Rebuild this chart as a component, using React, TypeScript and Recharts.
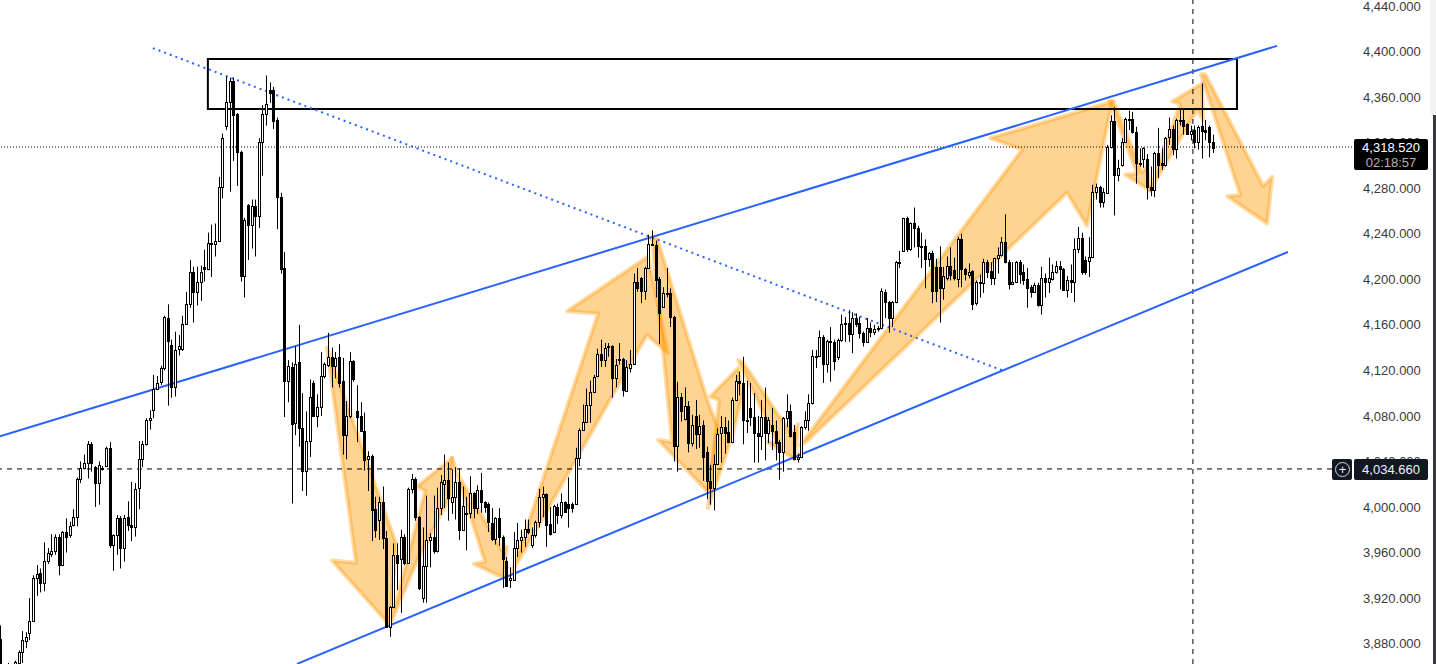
import { ComposedChart, Bar, Scatter, XAxis, YAxis, ReferenceLine, ReferenceArea } from 'recharts';

// rows are [open, high, low, close]
const climbCandles = [
  [3884,3896,3848,3857],[3858,3860,3850,3852],[3859,3863,3850,3854],[3852,3860,3850,3858],[3862,3865,3860,3864],[3863,3874,3862,3873],[3873,3891,3863,3883],[3882,3890,3876,3886],[3889,3920,3883,3900],[3900,3940,3899,3938],
  [3938,3949,3922,3941],[3942,3946,3925,3933],[3933,3969,3926,3953],[3953,3964,3950,3960],[3959,3976,3956,3961],[3961,3976,3958,3974],[3974,3976,3940,3949],[3949,3979,3948,3978],[3978,3990,3960,3974],[3975,3987,3973,3983],
  [3984,3998,3983,3991],[3991,4026,3983,4025],[4025,4040,4021,4034],[4034,4046,4033,4039],[4039,4058,4025,4055],[4055,4057,4031,4039],[4035,4036,4000,4021],[4021,4040,4002,4037],[4033,4036,4032,4034],[4036,4053,4035,4052],
  [4052,4057,3964,3967],[3967,3976,3944,3975],[3975,3993,3958,3990],[3990,3992,3946,3964],[3964,3993,3952,3990],[3991,4005,3979,3984],[3984,4022,3970,3982],[3982,4021,3974,4016],[4017,4058,3998,4042],[4042,4058,4035,4055],
  [4055,4078,4054,4076],[4076,4085,4068,4078],[4085,4116,4078,4104],[4104,4115,4103,4109],[4110,4124,4107,4122],[4122,4168,4120,4167],[4166,4178,4089,4146],[4142,4147,4096,4105],[4105,4154,4097,4138],[4139,4151,4133,4141],
  [4139,4168,4137,4161],[4161,4189,4160,4178],[4178,4217,4175,4206],[4206,4211,4162,4189],[4189,4211,4177,4198],[4198,4212,4181,4206],[4211,4226,4198,4209],[4209,4241,4208,4232],[4232,4248,4202,4232],[4231,4249,4220,4234],
  [4234,4290,4233,4281],[4281,4328,4271,4324],[4335,4378,4331,4356],[4356,4377,4277,4374],
];
const firstTopCandles = [
  [4374,4377,4304,4344],[4345,4346,4282,4312],[4312,4313,4198,4203],[4203,4254,4184,4252],[4265,4266,4217,4248],[4248,4270,4227,4264],[4264,4270,4220,4256],[4256,4324,4245,4321],[4321,4353,4291,4345],[4345,4379,4335,4354],
  [4366,4373,4355,4364],[4366,4369,4332,4339],[4340,4342,4244,4272],[4272,4276,4205,4209],[4210,4224,4079,4111],[4111,4129,4092,4124],[4123,4127,4003,4073],[4074,4141,4063,4126],[4127,4160,4053,4069],[4069,4100,4014,4032],
  [4032,4084,4010,4058],[4058,4112,4044,4097],[4109,4111,4079,4080],[4080,4099,4070,4088],[4088,4136,4080,4115],[4115,4127,4113,4126],[4125,4153,4123,4132],[4132,4140,4105,4124],[4124,4136,4113,4131],[4132,4143,4105,4109],
  [4111,4131,4046,4063],[4063,4093,4042,4080],[4080,4136,4078,4128],[4128,4129,4110,4112],[4084,4107,4057,4079],[4080,4092,4066,4067],[4067,4083,4032,4041],[4042,4049,4014,4045],[4045,4046,3970,3997],[3998,4009,3973,3980],
  [3989,4009,3971,4004],[4004,4018,3963,3973],[3973,3979,3894,3895],
];
const firstLowCandles = [
  [3895,3913,3886,3912],[3912,3968,3911,3958],[3958,3968,3927,3951],[3954,3980,3907,3974],[3974,3976,3949,3951],[3951,4017,3950,4016],[4016,4029,4012,4025],[4025,4026,3988,3991],[3991,3992,3927,3929],[3920,3982,3916,3948],
  [3948,4010,3916,3971],[3971,3977,3947,3974],[3974,4010,3959,3961],[3961,4017,3960,3999],[3999,4028,3993,4022],[4020,4046,3999,4024],[4024,4039,3988,4008],[4004,4033,3994,4009],[4009,4035,3989,4022],[4022,4034,3971,3980],
  [3980,4018,3979,4001],[3995,4009,3962,3995],[3995,4027,3990,4012],[4012,4013,3990,3999],[3999,4019,3994,4015],[4015,4030,3995,4004],[4004,4005,3995,4000],[4003,4004,3978,3987],[3986,3999,3970,3972],[3972,3991,3967,3990],
  [3990,3999,3966,3974],[3974,3975,3929,3954],[3953,3956,3930,3931],
];
const secondRallyCandles = [
  [3936,3947,3929,3938],[3936,3978,3935,3964],[3964,3986,3956,3971],[3971,3980,3960,3974],[3974,3989,3965,3981],[3981,3989,3976,3978],[3967,3982,3964,3975],[3975,3988,3973,3987],[3987,4016,3982,4009],[4009,4018,3991,4011],
  [4011,4012,3965,3984],[3985,4000,3975,3976],[3978,4002,3977,4001],[4000,4003,3985,3993],[3993,4012,3990,4004],[4004,4005,3995,3996],[4003,4026,3982,3999],[4003,4004,3995,3999],[4003,4052,4002,4043],[4043,4069,4036,4068],
  [4068,4090,4067,4075],[4075,4104,4074,4090],[4090,4111,4074,4101],[4101,4116,4100,4114],[4115,4139,4114,4134],[4134,4147,4123,4129],[4129,4144,4123,4140],[4141,4144,4132,4141],[4141,4142,4096,4113],[4113,4130,4105,4125],
  [4130,4144,4125,4130],[4130,4131,4097,4103],[4102,4129,4102,4123],[4122,4138,4118,4126],[4126,4205,4125,4198],[4198,4210,4189,4192],[4201,4202,4179,4190],[4190,4211,4182,4210],[4210,4239,4209,4231],[4231,4243,4230,4231],
];
const midDropCandles = [
  [4230,4234,4184,4199],[4200,4202,4143,4170],[4176,4193,4175,4188],[4188,4210,4184,4188],[4188,4192,4158,4167],[4167,4168,4040,4054],[4054,4110,4031,4097],[4097,4100,4075,4084],[4077,4105,4076,4089],[4089,4093,4048,4056],
  [4056,4081,4053,4072],[4080,4094,4051,4064],[4064,4081,4052,4071],[4072,4076,4023,4044],[4048,4053,4007,4023],[4023,4037,4002,4017],[4017,4046,3997,4038],[4038,4069,4037,4064],[4065,4080,4039,4070],[4070,4079,4047,4065],
  [4066,4076,4056,4057],[4057,4096,4056,4094],[4094,4116,4093,4111],[4111,4119,4098,4109],[4109,4132,4055,4076],[4076,4111,4065,4076],[4087,4109,4071,4079],[4079,4100,4039,4065],[4065,4080,4039,4062],[4062,4094,4050,4079],
  [4079,4105,4041,4065],[4065,4079,4056,4076],[4072,4087,4050,4067],[4067,4076,4041,4056],[4057,4059,4024,4048],[4048,4079,4031,4078],[4078,4099,4070,4084],[4084,4090,4061,4062],[4066,4072,4041,4042],[4042,4047,4039,4044],
];
const pushUpCandles = [
  [4044,4071,4043,4070],[4070,4084,4068,4076],[4076,4099,4067,4091],[4091,4138,4090,4133],[4133,4138,4122,4133],[4133,4155,4132,4149],[4149,4151,4109,4126],[4126,4147,4118,4146],[4146,4158,4110,4145],[4145,4147,4120,4128],
  [4132,4148,4129,4147],[4147,4169,4145,4161],[4161,4167,4145,4162],[4162,4173,4145,4152],[4152,4171,4135,4166],[4166,4170,4158,4161],[4162,4167,4148,4153],[4153,4154,4141,4145],[4145,4166,4144,4157],[4157,4162,4149,4154],
  [4154,4160,4151,4156],[4157,4159,4154,4157],[4157,4192,4156,4190],[4189,4191,4166,4180],[4180,4181,4153,4166],[4166,4181,4158,4180],[4180,4216,4179,4215],[4215,4225,4210,4215],[4225,4254,4224,4254],[4254,4255,4224,4227],
];
const rangeCandles = [
  [4227,4250,4225,4249],[4249,4263,4228,4245],[4245,4247,4219,4229],[4229,4241,4210,4229],[4229,4235,4192,4218],[4218,4224,4211,4223],[4223,4225,4179,4190],[4211,4218,4180,4190],[4211,4229,4162,4192],[4192,4211,4182,4203],
  [4201,4220,4199,4212],[4212,4228,4199,4204],[4208,4219,4199,4201],[4200,4237,4193,4235],[4235,4240,4193,4209],[4209,4210,4199,4205],[4204,4214,4201,4206],[4207,4208,4173,4178],[4179,4199,4177,4198],[4198,4204,4184,4197],
  [4197,4218,4188,4215],[4215,4217,4201,4206],[4207,4215,4195,4201],[4201,4219,4195,4219],[4219,4228,4205,4221],[4221,4237,4220,4233],[4233,4257,4214,4215],[4215,4217,4191,4196],[4196,4215,4195,4198],[4198,4216,4197,4215],
  [4215,4217,4196,4205],[4206,4213,4195,4199],[4200,4210,4175,4192],[4193,4195,4184,4189],[4189,4197,4188,4195],[4195,4197,4176,4177],[4177,4211,4169,4201],[4201,4205,4184,4198],[4198,4219,4188,4201],[4200,4213,4199,4206],
  [4206,4216,4205,4212],[4212,4216,4191,4209],[4209,4210,4190,4191],[4191,4203,4184,4199],[4199,4213,4188,4198],
];
const lastLegCandles = [
  [4198,4236,4180,4227],[4227,4246,4223,4236],[4236,4241,4204,4206],[4217,4220,4204,4206],[4216,4237,4202,4220],[4220,4283,4219,4277],[4277,4284,4270,4281],[4281,4282,4263,4268],[4268,4280,4263,4277],[4276,4318,4275,4316],
  [4316,4344,4315,4339],[4339,4351,4256,4292],[4292,4305,4286,4298],[4300,4324,4299,4321],[4321,4342,4320,4341],[4341,4348,4331,4341],[4341,4347,4328,4329],[4329,4334,4284,4302],[4302,4315,4299,4302],[4306,4316,4298,4315],
  [4306,4310,4270,4281],[4281,4299,4273,4278],[4278,4312,4272,4311],[4311,4333,4289,4300],[4302,4315,4296,4300],[4300,4325,4299,4324],[4325,4342,4318,4332],[4332,4335,4309,4314],[4314,4341,4306,4340],[4340,4350,4335,4340],
  [4340,4349,4327,4335],[4336,4337,4327,4328],[4328,4335,4322,4330],[4331,4335,4315,4321],[4321,4335,4314,4334],[4335,4372,4306,4330],[4331,4340,4322,4329],[4334,4335,4307,4321],[4321,4327,4311,4315],
];

const priceTicks = [3880, 3920, 3960, 4000, 4040, 4080, 4120, 4160, 4200, 4240, 4280, 4320, 4360, 4400, 4440];

// drawn arrows, [bar index, price]
const arrowShapes = [
  [[89.7,4140],[97.7,3951],[91.1,3953],[107,3896],[108.7,3968]],
  [[107,3896],[116.7,4014],[114.5,4018],[124.1,4043],[123.8,4011],[114.5,3953]],
  [[124.1,4043],[133.1,3952],[130.1,3950],[138.1,3938],[139.2,3965],[137.8,3962],[124.9,4033]],
  [[140.6,3943],[164.2,4170],[155.7,4172],[177.9,4220],[183.4,4135],[177.6,4151]],
  [[179,4236],[184.5,4057],[180.7,4059],[194.4,4013],[197.2,4069],[194.4,4092],[180.4,4236]],
  [[194.4,3999],[197.4,4094],[195,4097],[202.7,4122],[203.7,4097],[201.3,4065]],
  [[202.7,4129],[213.6,4056],[210.6,4057],[218.3,4042],[219.1,4073],[217.5,4063],[204,4127]],
  [[219.7,4054],[280.7,4314],[271.9,4324],[305.4,4356],[298.5,4247],[293,4276],[221.3,4057]],
  [[304.6,4357],[312.3,4293],[309,4292],[315.8,4278],[315,4299],[313.6,4294],[305.9,4356]],
  [[315.8,4278],[324.1,4354],[321.9,4356],[330.1,4372],[330.4,4340],[328.8,4349],[317.8,4289]],
  [[329.8,4380],[340.6,4274],[337,4273],[348,4249],[349.4,4290],[346.9,4282],[331,4380]],
];

const upperChannel = [{ x: -0.1, y: 4062 }, { x: 350.7, y: 4405 }];
const lowerChannel = [{ x: 81.5, y: 3862.2 }, { x: 353.7, y: 4224 }];
const dottedTrend = [{ x: 41.9, y: 4403 }, { x: 275.2, y: 4120 }];
const zoneBox = { x1: 57, x2: 339.7, y1: 4349.6, y2: 4393.5 };
const crossBar = 327.6;
const crossPrice = 4033.4;
const lastPrice = 4316.2;

const candles = [
  ...climbCandles, ...firstTopCandles, ...firstLowCandles, ...secondRallyCandles,
  ...midDropCandles, ...pushUpCandles, ...rangeCandles, ...lastLegCandles,
].map((r, i) => ({ x: i, y: r[3], o: r[0], h: r[1], l: r[2], c: r[3] }));

function Candle(props: any) {
  const { x, y, width, height, payload } = props;
  const cx = Math.round(x + width / 2) + 0.5;
  const perUnit = height / (payload.h - payload.l);
  const top = y + (payload.h - Math.max(payload.o, payload.c)) * perUnit;
  const bottom = y + (payload.h - Math.min(payload.o, payload.c)) * perUnit;
  const up = payload.c >= payload.o;
  const t = Math.round(top) + 0.5;
  const b = Math.max(Math.round(bottom) + 0.5, t + 1);
  return (
    <g>
      <line x1={cx} x2={cx} y1={y} y2={y + height} stroke="#000" strokeWidth={1} />
      <rect x={cx - 1} y={t} width={2} height={b - t} fill={up ? '#fff' : '#000'} stroke="#000" strokeWidth={1} />
    </g>
  );
}

function ArrowFill(props: any) {
  const pts = props.points.map((p: any) => `${p.x},${p.y}`).join(' ');
  return (
    <polygon
      points={pts}
      fill="#ff9800"
      fillOpacity={0.43}
      stroke="#ff9800"
      strokeOpacity={0.35}
      strokeWidth={4}
      strokeLinejoin="round"
    />
  );
}

const badge = { position: 'absolute', left: 1354, width: 74, borderRadius: 2, textAlign: 'center', fontFamily: '"Liberation Sans", sans-serif', fontSize: 13 } as const;

export default function App() {
  return (
    <div style={{ position: 'absolute', left: 0, top: 0, width: 1436, height: 664, background: '#fff', overflow: 'hidden' }}>
      <ComposedChart width={1436} height={664} data={candles} margin={{ top: 0, right: 0, bottom: 0, left: 0 }}>
        <XAxis dataKey="x" type="number" domain={[-0.1, 371.3]} hide height={0} allowDataOverflow />
        <YAxis
          dataKey="y"
          orientation="right"
          width={84}
          domain={[3862.1, 4445.3]}
          ticks={priceTicks}
          interval={0}
          allowDataOverflow
          axisLine={false}
          tickLine={false}
          tickMargin={5}
          tick={{ fill: '#3a3a3a', fontSize: 13, fontFamily: '"Liberation Sans", sans-serif' }}
          tickFormatter={(v: number) => v.toLocaleString('en-US', { minimumFractionDigits: 3 })}
        />
        {arrowShapes.map((shape, n) => (
          <Scatter
            key={n}
            zIndex={90}
            data={shape.map((p) => ({ x: p[0], y: p[1] }))}
            line={(props: any) => <ArrowFill {...props} />}
            shape={() => null}
            isAnimationActive={false}
          />
        ))}
        <ReferenceLine y={lastPrice} stroke="#000" strokeDasharray="1 2" />
        <ReferenceLine y={crossPrice} stroke="#000" strokeDasharray="5 5" />
        <ReferenceLine x={crossBar} stroke="#000" strokeDasharray="5 5" />
        <ReferenceLine segment={upperChannel} stroke="#2962ff" strokeWidth={2} />
        <ReferenceLine segment={lowerChannel} stroke="#2962ff" strokeWidth={2} />
        <ReferenceLine segment={dottedTrend} stroke="#2962ff" strokeWidth={2} strokeDasharray="2 4" />
        <ReferenceArea {...zoneBox} fill="none" stroke="#000" strokeWidth={2} fillOpacity={0} />
        <Bar dataKey={(d: any) => [d.l, d.h]} barSize={3} shape={Candle} isAnimationActive={false} zIndex={700} />
      </ComposedChart>
      <div style={{ ...badge, top: 139, height: 31, background: '#000', color: '#fff', lineHeight: '15px', paddingTop: 1, boxSizing: 'border-box' }}>
        <div>4,318.520</div>
        <div style={{ color: '#b2b2b2' }}>02:18:57</div>
      </div>
      <div style={{ ...badge, top: 459, height: 21, background: '#131722', color: '#f0f3fa', lineHeight: '21px' }}>4,034.660</div>
      <div style={{ position: 'absolute', left: 1332, top: 459, width: 20, height: 21, borderRadius: 2, background: '#131722' }}>
        <div style={{ position: 'absolute', left: 3, top: 3, width: 13, height: 13, border: '1px solid #d6d8de', borderRadius: 8, color: '#f0f3fa', fontFamily: '"Liberation Sans", sans-serif', fontSize: 13, lineHeight: '13px', textAlign: 'center' }}>+</div>
      </div>
      <div style={{ position: 'absolute', left: 1430, top: 0, width: 6, height: 115, background: '#f3f3f3' }} />
      <div style={{ position: 'absolute', left: 1433, top: 115, width: 3, height: 549, background: '#3a3a3c' }} />
    </div>
  );
}
